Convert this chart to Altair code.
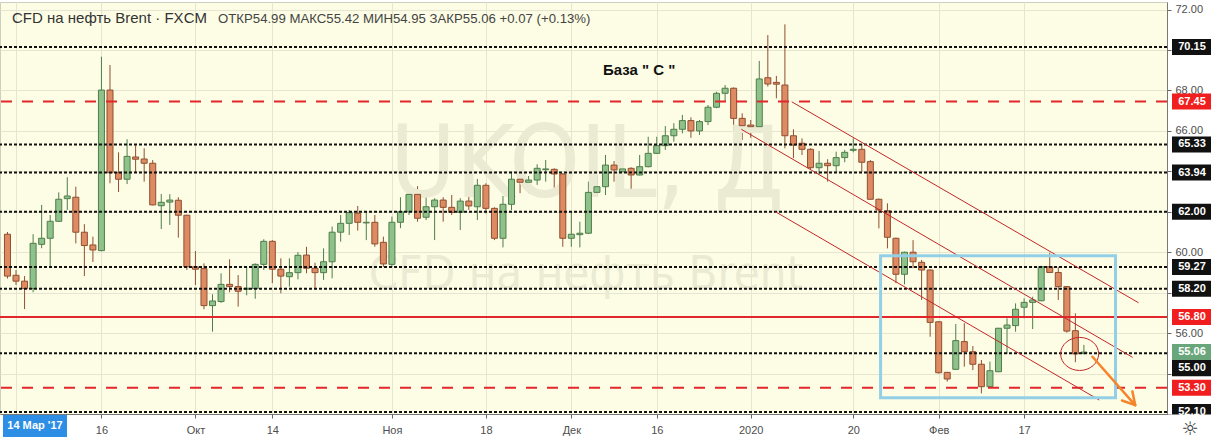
import altair as alt
import pandas as pd

# Daily UKOIL (CFD на нефть Brent, FXCM) candles, one bar per trading session
opens = [60.89, 58.86, 58.57, 58.20, 60.39, 60.69, 61.53, 62.65, 62.72, 60.99,
         60.36, 60.08, 68.02, 63.93, 63.61, 64.71, 64.61, 64.40, 62.30, 62.48,
         62.57, 61.83, 59.28, 59.19, 57.36, 57.56, 58.41, 58.30, 58.17, 58.20,
         59.40, 60.54, 59.16, 58.79, 58.99, 59.86, 59.21, 58.99, 59.53, 60.99,
         61.43, 61.93, 61.45, 61.48, 60.49, 59.40, 61.48, 62.00, 62.86, 61.73,
         62.25, 62.58, 62.22, 61.97, 62.53, 62.25, 63.31, 62.17, 60.69, 62.37,
         63.61, 63.46, 63.57, 64.08, 64.10, 63.87, 60.69, 60.87, 60.94, 62.96,
         63.24, 64.31, 63.98, 64.15, 63.82, 64.23, 64.89, 65.27, 65.76, 66.08,
         66.51, 66.00, 66.46, 67.17, 67.86, 68.11, 66.62, 66.29, 66.21, 68.63,
         68.40, 68.27, 65.76, 65.39, 65.09, 64.18, 64.40, 64.28, 64.68, 65.04,
         65.09, 64.48, 62.62, 62.05, 60.69, 58.91, 60.00, 59.50, 59.12, 56.56,
         54.06, 54.21, 55.58, 55.08, 54.46, 53.35, 54.09, 56.24, 56.37, 57.28,
         57.52, 57.60, 59.28, 59.00, 58.30, 56.12, 54.99]
highs = [61.00, 59.12, 58.82, 60.89, 62.34, 61.84, 62.96, 63.71, 63.24, 61.39,
         60.77, 69.67, 69.26, 64.94, 65.59, 65.29, 65.14, 64.56, 62.88, 62.87,
         62.72, 61.85, 60.06, 59.45, 57.92, 58.96, 59.65, 58.87, 59.28, 59.45,
         60.64, 60.60, 59.70, 59.70, 60.01, 60.27, 59.48, 60.19, 61.27, 61.84,
         62.09, 62.29, 62.00, 61.84, 60.77, 61.76, 62.72, 63.21, 63.27, 62.86,
         62.67, 62.72, 62.83, 62.67, 63.21, 63.62, 63.41, 62.22, 62.78, 63.98,
         64.23, 63.77, 64.35, 64.56, 64.15, 63.90, 62.00, 61.51, 63.49, 63.82,
         64.81, 64.51, 64.65, 64.20, 64.81, 65.71, 65.71, 66.24, 66.38, 66.79,
         66.67, 66.54, 67.28, 67.94, 68.27, 68.15, 66.87, 66.54, 69.46, 70.74,
         68.72, 71.27, 66.08, 65.63, 65.14, 65.01, 64.60, 64.97, 65.06, 65.63,
         65.34, 64.56, 62.65, 62.42, 60.72, 60.03, 60.60, 59.62, 59.15, 56.58,
         54.08, 56.45, 56.49, 55.36, 54.67, 54.59, 56.26, 56.73, 57.47, 57.72,
         57.80, 59.33, 59.97, 59.28, 58.32, 56.98, 55.42]
lows = [58.70, 58.38, 57.19, 58.02, 60.20, 59.28, 61.50, 62.09, 60.44, 58.82,
        59.52, 60.05, 63.41, 62.98, 63.37, 63.93, 63.49, 62.32, 61.15, 61.35,
        60.72, 59.12, 58.38, 57.18, 56.07, 57.50, 58.02, 57.31, 57.87, 57.70,
        59.12, 58.47, 57.97, 58.30, 58.66, 58.96, 58.22, 58.63, 58.71, 60.52,
        60.85, 61.07, 60.60, 60.27, 59.28, 59.28, 61.19, 61.84, 61.51, 61.59,
        60.60, 61.51, 61.84, 61.10, 62.09, 61.59, 61.92, 60.60, 60.24, 62.09,
        62.92, 62.92, 63.33, 63.49, 63.16, 60.27, 60.27, 60.24, 60.90, 62.75,
        62.83, 63.49, 63.74, 62.94, 63.80, 64.20, 64.86, 65.06, 65.47, 65.88,
        65.66, 65.80, 66.29, 67.12, 67.48, 66.00, 65.55, 65.66, 66.09, 68.19,
        67.61, 65.14, 64.65, 64.81, 64.12, 63.85, 63.49, 63.98, 64.45, 64.94,
        63.98, 62.60, 61.18, 60.19, 58.47, 58.41, 59.21, 57.64, 55.82, 54.00,
        53.60, 54.18, 54.34, 54.17, 53.02, 53.33, 54.07, 54.97, 56.07, 56.73,
        56.20, 57.58, 58.98, 57.64, 56.02, 54.56, 54.95]
closes = [58.82, 58.57, 58.20, 60.44, 60.69, 61.53, 62.62, 62.78, 60.99, 60.33,
          60.11, 68.02, 63.93, 63.61, 64.74, 64.60, 64.40, 62.34, 62.47, 62.58,
          61.83, 59.28, 59.16, 57.36, 57.59, 58.41, 58.30, 58.07, 58.22, 59.40,
          60.54, 59.16, 58.82, 58.99, 59.85, 59.21, 58.99, 59.53, 60.99, 61.43,
          61.96, 61.48, 61.48, 60.41, 59.42, 61.48, 62.00, 62.86, 61.68, 62.25,
          62.58, 62.22, 61.97, 62.53, 62.29, 63.31, 62.17, 60.69, 62.37, 63.61,
          63.46, 63.57, 64.15, 64.12, 63.87, 60.69, 60.89, 60.94, 62.96, 63.24,
          64.31, 64.07, 64.12, 63.82, 64.23, 64.89, 65.27, 65.76, 66.08, 66.51,
          66.00, 66.46, 67.17, 67.86, 68.11, 66.62, 66.26, 66.21, 68.57, 68.32,
          68.31, 65.76, 65.30, 65.09, 64.18, 64.40, 64.28, 64.68, 64.94, 65.09,
          64.45, 62.62, 62.09, 60.74, 58.91, 60.00, 59.53, 59.12, 56.53, 54.04,
          53.73, 55.63, 55.08, 54.46, 53.35, 54.14, 56.24, 56.40, 57.18, 57.52,
          57.64, 59.28, 59.00, 58.30, 56.10, 54.97, 55.06]

# Horizontal support / resistance levels
level_black = [70.15, 65.33, 63.94, 62.00, 59.27, 58.20, 55.00, 52.10]
level_red_dash = [67.45, 53.30]
level_red_solid = [56.80]
last_price = 55.06
last_change = "+0.07 (+0.13%)"

# Date axis: bar index of each labelled session
tick_pos = [1, 11, 22, 31, 45, 56, 66, 76, 87, 99, 109, 119]
tick_text = ["", "16", "Окт", "14", "Ноя", "18", "Дек", "16", "2020", "20", "Фев", "17"]
price_ticks = list(range(52, 73, 2))

# Descending channel: (bar index, price) end points of each line
chan_x1 = [91.8, 85.9, 89.9]
chan_y1 = [67.44, 66.08, 62.00]
chan_x2 = [132.4, 131.7, 127.8]
chan_y2 = [57.50, 54.80, 52.69]

# Consolidation box and target marker
box_x = [102.2, 129.7]
box_y = [59.83, 52.80]
ring_x, ring_y = 125.5, 54.97
arrow_x = [127.0, 132.0]
arrow_y = [54.83, 52.44]
head_x = [130.46, 131.67]
head_y = [52.67, 53.12]

BG = "#fdfde5"
UP_FILL, UP_LINE = "#8fc28b", "#4f7d4b"
DN_FILL, DN_LINE = "#de8a63", "#8f4f30"
FONT = "Liberation Sans"
WM_FONT = "DejaVu Sans Condensed, Liberation Sans Narrow, Liberation Sans"

candles = pd.DataFrame({
    "i": list(range(len(opens))),
    "o": opens, "h": highs, "l": lows, "c": closes,
})
candles["dir"] = ["up" if c >= o else "down" for o, c in zip(opens, closes)]

xs = alt.Scale(domain=[-0.29, 135.14], nice=False, zero=False)
ys = alt.Scale(domain=[52.0, 72.375], nice=False, zero=False)

# Price tags on the right axis, stacked so that they do not overlap
tags = [(v, "#111111") for v in level_black] + \
       [(v, "#f01e1e") for v in level_red_dash + level_red_solid] + \
       [(last_price, "#6aa67c")]
tags.sort(key=lambda t: (-t[0], t[1] != "#6aa67c"))
tag_h = 16 / 20.22
rows, prev = [], None
for v, col in tags:
    c = v if prev is None else min(v, prev - tag_h)
    rows.append({"v": v, "c": c, "top": c + tag_h / 2, "bot": c - tag_h / 2,
                 "col": col, "t": f"{v:.2f}"})
    prev = c
tag_df = pd.DataFrame(rows)

# Axis price labels that sit under a tag are left blank
hidden = [p for p in price_ticks
          if any(abs(p - r["c"]) < tag_h / 2 + 0.1 for r in rows)]
y_label_expr = " || ".join(f"datum.value == {p}" for p in hidden) + \
    " ? '' : format(datum.value, '.2f')" if hidden else "format(datum.value, '.2f')"

x_label_expr = " : ".join(
    f"datum.value == {p} ? '{t}'" for p, t in zip(tick_pos, tick_text)
) + " : ''"

x_axis = alt.Axis(values=tick_pos, labelExpr=x_label_expr, title=None,
                  grid=True, gridColor="#e6e6d0", labelColor="#4d4d4d",
                  labelFontSize=11, labelFont=FONT, tickSize=4, tickColor="#666",
                  domainColor="#777", labelPadding=6)
y_axis = alt.Axis(orient="right", values=price_ticks, labelExpr=y_label_expr,
                  title=None, grid=True, gridColor="#e6e6d0", labelColor="#4d4d4d",
                  labelFontSize=11, labelFont=FONT, tickSize=4, tickColor="#666",
                  domainColor="#777", labelPadding=4)

dir_fill = alt.Scale(domain=["up", "down"], range=[UP_FILL, DN_FILL])
dir_line = alt.Scale(domain=["up", "down"], range=[UP_LINE, DN_LINE])

base = alt.Chart(candles)

# Watermark
watermark_big = alt.Chart(pd.DataFrame({"t": ["UKOIL, Д"]})).mark_text(
    font=WM_FONT, fontSize=100, color="#ebebd3", align="center", baseline="alphabetic"
).encode(x=alt.value(587), y=alt.value(195), text="t:N")
watermark_small = alt.Chart(pd.DataFrame({"t": ["CFD на нефть Brent"]})).mark_text(
    font=WM_FONT, fontSize=47, color="#ebebd3", align="center", baseline="alphabetic"
).encode(x=alt.value(586), y=alt.value(287), text="t:N")

wicks = base.mark_rule(strokeWidth=1).encode(
    x=alt.X("i:Q", scale=xs, axis=x_axis),
    y=alt.Y("l:Q", scale=ys, axis=y_axis),
    y2="h:Q",
    color=alt.Color("dir:N", scale=dir_line, legend=None),
)
bodies = base.mark_bar(size=6, strokeWidth=1).encode(
    x=alt.X("i:Q", scale=xs),
    y=alt.Y("o:Q", scale=ys),
    y2="c:Q",
    fill=alt.Fill("dir:N", scale=dir_fill, legend=None),
    stroke=alt.Stroke("dir:N", scale=dir_line, legend=None),
)

lv_black = alt.Chart(pd.DataFrame({"v": level_black})).mark_rule(
    color="#111", strokeWidth=2, strokeDash=[3, 2]
).encode(y=alt.Y("v:Q", scale=ys))
lv_red_dash = alt.Chart(pd.DataFrame({"v": level_red_dash})).mark_rule(
    color="#e3262b", strokeWidth=2, strokeDash=[11, 10]
).encode(y=alt.Y("v:Q", scale=ys))
lv_red = alt.Chart(pd.DataFrame({"v": level_red_solid})).mark_rule(
    color="#e3262b", strokeWidth=2
).encode(y=alt.Y("v:Q", scale=ys))

channel = alt.Chart(pd.DataFrame({"x1": chan_x1, "y1": chan_y1,
                                  "x2": chan_x2, "y2": chan_y2})).mark_rule(
    color="#c4262b", strokeWidth=1
).encode(x=alt.X("x1:Q", scale=xs), x2="x2:Q",
         y=alt.Y("y1:Q", scale=ys), y2="y2:Q")

box = alt.Chart(pd.DataFrame({"x1": [box_x[0]], "x2": [box_x[1]],
                              "y1": [box_y[0]], "y2": [box_y[1]]})).mark_rect(
    fillOpacity=0, stroke="#93cfe6", strokeWidth=3
).encode(x=alt.X("x1:Q", scale=xs), x2="x2:Q",
         y=alt.Y("y1:Q", scale=ys), y2="y2:Q")

ring = alt.Chart(pd.DataFrame({"x": [ring_x], "y": [ring_y]})).mark_point(
    shape="M-1,0A1,0.87,0,1,1,1,0A1,0.87,0,1,1,-1,0Z",
    size=1444, filled=False, stroke="#c4262b", strokeWidth=1, opacity=1
).encode(x=alt.X("x:Q", scale=xs), y=alt.Y("y:Q", scale=ys))

arrow_df = pd.DataFrame({
    "x1": [arrow_x[0], arrow_x[1], arrow_x[1]],
    "y1": [arrow_y[0], arrow_y[1], arrow_y[1]],
    "x2": [arrow_x[1], head_x[0], head_x[1]],
    "y2": [arrow_y[1], head_y[0], head_y[1]],
})
arrow = alt.Chart(arrow_df).mark_rule(
    color="#f5842a", strokeWidth=2.5, strokeCap="round"
).encode(x=alt.X("x1:Q", scale=xs), x2="x2:Q",
         y=alt.Y("y1:Q", scale=ys), y2="y2:Q")

note = alt.Chart(pd.DataFrame({"x": [69.7], "y": [69.0],
                               "t": ['База  " С "']})).mark_text(
    font=FONT, fontSize=15, fontWeight="bold", color="#111",
    align="left", baseline="middle"
).encode(x=alt.X("x:Q", scale=xs), y=alt.Y("y:Q", scale=ys), text="t:N")

# Legend line with symbol name and last-bar OHLC
head = alt.Chart(pd.DataFrame({"t": ["CFD на нефть Brent · FXCM"]})).mark_text(
    font=FONT, fontSize=15, color="#333", align="left", baseline="middle"
).encode(x=alt.value(12), y=alt.value(16), text="t:N")
ohlc_text = (f"ОТКР{opens[-1]:.2f}  МАКС{highs[-1]:.2f}  МИН{lows[-1]:.2f}  "
             f"ЗАКР{closes[-1]:.2f}  {last_change}")
ohlc = alt.Chart(pd.DataFrame({"t": [ohlc_text]})).mark_text(
    font=FONT, fontSize=13.2, color="#444", align="left", baseline="middle"
).encode(x=alt.value(218), y=alt.value(17), text="t:N")

tag_box = alt.Chart(tag_df).mark_rect().encode(
    x=alt.value(1172), x2=alt.value(1211),
    y=alt.Y("top:Q", scale=ys), y2="bot:Q",
    fill=alt.Fill("col:N", scale=None),
)
tag_text = alt.Chart(tag_df).mark_text(
    font=FONT, fontSize=11, fontWeight="bold", color="white",
    align="center", baseline="middle"
).encode(x=alt.value(1192), y=alt.Y("c:Q", scale=ys), text="t:N")

cover = alt.Chart(pd.DataFrame({"a": [0]})).mark_rect(color="white").encode(
    x=alt.value(1168), x2=alt.value(1211), y=alt.value(412.5), y2=alt.value(438))
gear = alt.Chart(pd.DataFrame({"t": ["☼"]})).mark_text(
    font="DejaVu Sans", fontSize=19, color="#333", align="center", baseline="middle"
).encode(x=alt.value(1190), y=alt.value(427), text="t:N")

cursor_box = alt.Chart(pd.DataFrame({"a": [0]})).mark_rect(color="#2d8ee6").encode(
    x=alt.value(3), x2=alt.value(67), y=alt.value(413), y2=alt.value(435))
cursor_text = alt.Chart(pd.DataFrame({"t": ["14 Мар '17"]})).mark_text(
    font=FONT, fontSize=11, fontWeight="bold", color="white",
    align="center", baseline="middle"
).encode(x=alt.value(35), y=alt.value(424), text="t:N")

chart = alt.layer(
    wicks, watermark_big, watermark_small, bodies,
    lv_black, lv_red_dash, lv_red, channel, box, ring, arrow, note,
    head, ohlc, tag_box, tag_text, cover, gear, cursor_box, cursor_text,
).properties(
    width=1167, height=412,
    autosize=alt.AutoSizeParams(type="none"),
    padding={"left": 0, "top": 2, "right": 44, "bottom": 26},
    background="white",
).configure_view(fill=BG, stroke="#cfcfbf")

chart.save("out.html", embed_options={"renderer": "svg", "actions": False})
